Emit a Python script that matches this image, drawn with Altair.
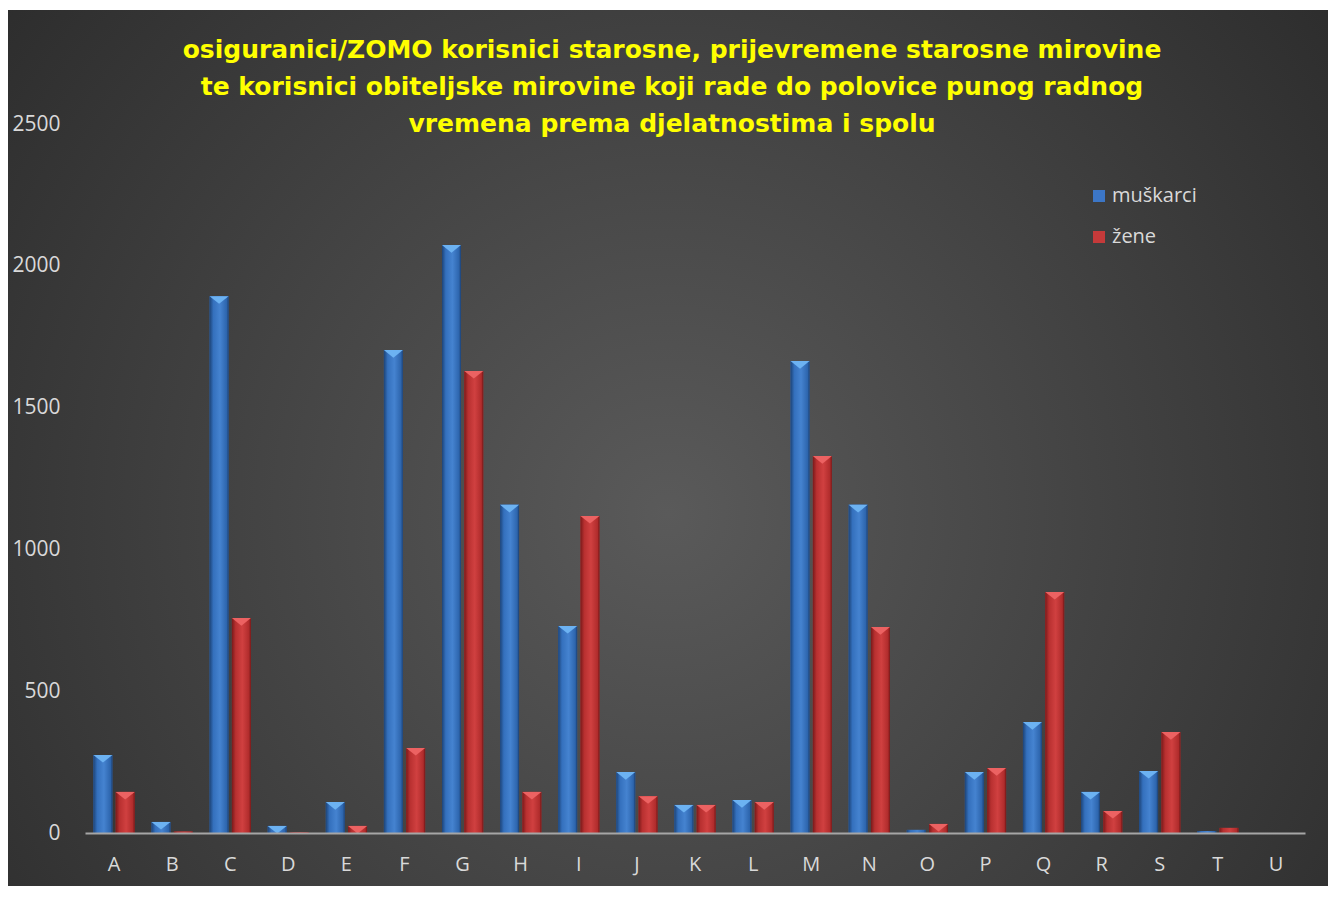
import altair as alt
import pandas as pd

categories = list("ABCDEFGHIJKLMNOPQRSTU")
muskarci = [275, 39, 1893, 25, 109, 1703, 2073, 1157, 730, 215, 99, 116, 1664, 1157, 11, 215, 391, 145, 219, 7, 0]
zene = [145, 5, 758, 2, 25, 300, 1629, 145, 1118, 130, 99, 109, 1329, 726, 32, 229, 850, 78, 356, 18, 0]
series = ["muškarci", "žene"]
title_lines = [
    "osiguranici/ZOMO korisnici starosne, prijevremene starosne mirovine",
    "te korisnici obiteljske mirovine koji rade do polovice punog radnog",
    "vremena prema djelatnostima i spolu",
]
y_ticks = [0, 500, 1000, 1500, 2000, 2500]

rows = []
for c, m, z in zip(categories, muskarci, zene):
    rows.append({"cat": c, "series": series[0], "value": m})
    rows.append({"cat": c, "series": series[1], "value": z})
df = pd.DataFrame(rows)

W, H = 1220, 709
FONT = "Open Sans"
LABEL = "#d9d9d9"

x_enc = alt.X("cat:N", sort=categories,
              scale=alt.Scale(paddingInner=0.29, paddingOuter=0.145),
              axis=alt.Axis(title=None, labelAngle=0, ticks=False, domainColor="#a6a6a6",
                            domainWidth=2, labelPadding=21, labelFontSize=20,
                            labelColor=LABEL, labelFont=FONT, zindex=2))
xo_enc = alt.XOffset("series:N", sort=series, scale=alt.Scale(domain=series, paddingInner=0.15))
y_enc = alt.Y("value:Q", scale=alt.Scale(domain=[0, 2500]),
              axis=alt.Axis(title=None, values=y_ticks, format="d", grid=False, domain=False,
                            ticks=False, labelPadding=25, labelFontSize=21, labelColor=LABEL,
                            labelFont=FONT, zindex=2))

bg_grad = {"gradient": "radial", "x1": 0.5, "y1": 0.55, "r1": 0, "x2": 0.5, "y2": 0.55, "r2": 0.75,
           "stops": [{"offset": 0, "color": "#5a5a5a"}, {"offset": 1, "color": "#252525"}]}
blue_grad = {"gradient": "linear", "x1": 0, "y1": 0, "x2": 1, "y2": 0,
             "stops": [{"offset": 0, "color": "#1d4478"}, {"offset": 0.2, "color": "#3470bd"},
                       {"offset": 0.55, "color": "#4583d0"}, {"offset": 0.9, "color": "#2d65ad"},
                       {"offset": 1, "color": "#1b3f70"}]}
red_grad = {"gradient": "linear", "x1": 0, "y1": 0, "x2": 1, "y2": 0,
            "stops": [{"offset": 0, "color": "#7a1a1a"}, {"offset": 0.2, "color": "#b83030"},
                      {"offset": 0.55, "color": "#d04040"}, {"offset": 0.9, "color": "#b02c2c"},
                      {"offset": 1, "color": "#701616"}]}

one = pd.DataFrame({"a": [0]})

bg = alt.Chart(one).mark_rect(fill=bg_grad).encode(
    x=alt.value(-77), x2=alt.value(1243), y=alt.value(-114), y2=alt.value(762))

base = alt.Chart(df)

legend_bars = base.mark_bar().encode(
    x=x_enc, xOffset=xo_enc, y=y_enc,
    color=alt.Color("series:N", scale=alt.Scale(domain=series, range=["#3c76c6", "#c53a3a"]),
                    legend=alt.Legend(orient="none", legendX=1004, legendY=62, title=None,
                                      symbolType="square", symbolSize=144, symbolStrokeWidth=0,
                                      labelFontSize=20, labelColor=LABEL, labelFont=FONT,
                                      rowPadding=21, labelOffset=3, padding=0)))

blue_bars = base.transform_filter(alt.datum.series == series[0]).mark_bar(fill=blue_grad).encode(
    x=x_enc, xOffset=xo_enc, y=y_enc)
red_bars = base.transform_filter(alt.datum.series == series[1]).mark_bar(fill=red_grad).encode(
    x=x_enc, xOffset=xo_enc, y=y_enc)

tri_shape = "M-1,0L1,0L0,0.8Z"
blue_tri = base.transform_filter((alt.datum.series == series[0]) & (alt.datum.value >= 20)).mark_point(
    shape=tri_shape, size=361, filled=True, fill="#6cb2f2", strokeWidth=0, opacity=1).encode(
    x=x_enc, xOffset=xo_enc, y=y_enc)
red_tri = base.transform_filter((alt.datum.series == series[1]) & (alt.datum.value >= 20)).mark_point(
    shape=tri_shape, size=361, filled=True, fill="#ec6262", strokeWidth=0, opacity=1).encode(
    x=x_enc, xOffset=xo_enc, y=y_enc)

title = alt.Chart(one).mark_text(text=title_lines, font="DejaVu Sans", fontWeight="bold",
                                  fontSize=25, color="#ffff00", lineHeight=37,
                                  align="center", baseline="middle").encode(
    x=alt.value(587), y=alt.value(-74))

chart = alt.layer(bg, legend_bars, blue_bars, red_bars, blue_tri, red_tri, title).properties(
    width=W, height=H, padding={"left": 0, "top": 2, "right": 0, "bottom": 0},
    background="white"
).configure_view(stroke=None)

chart.save("out.html", embed_options={"renderer": "svg", "actions": False})
